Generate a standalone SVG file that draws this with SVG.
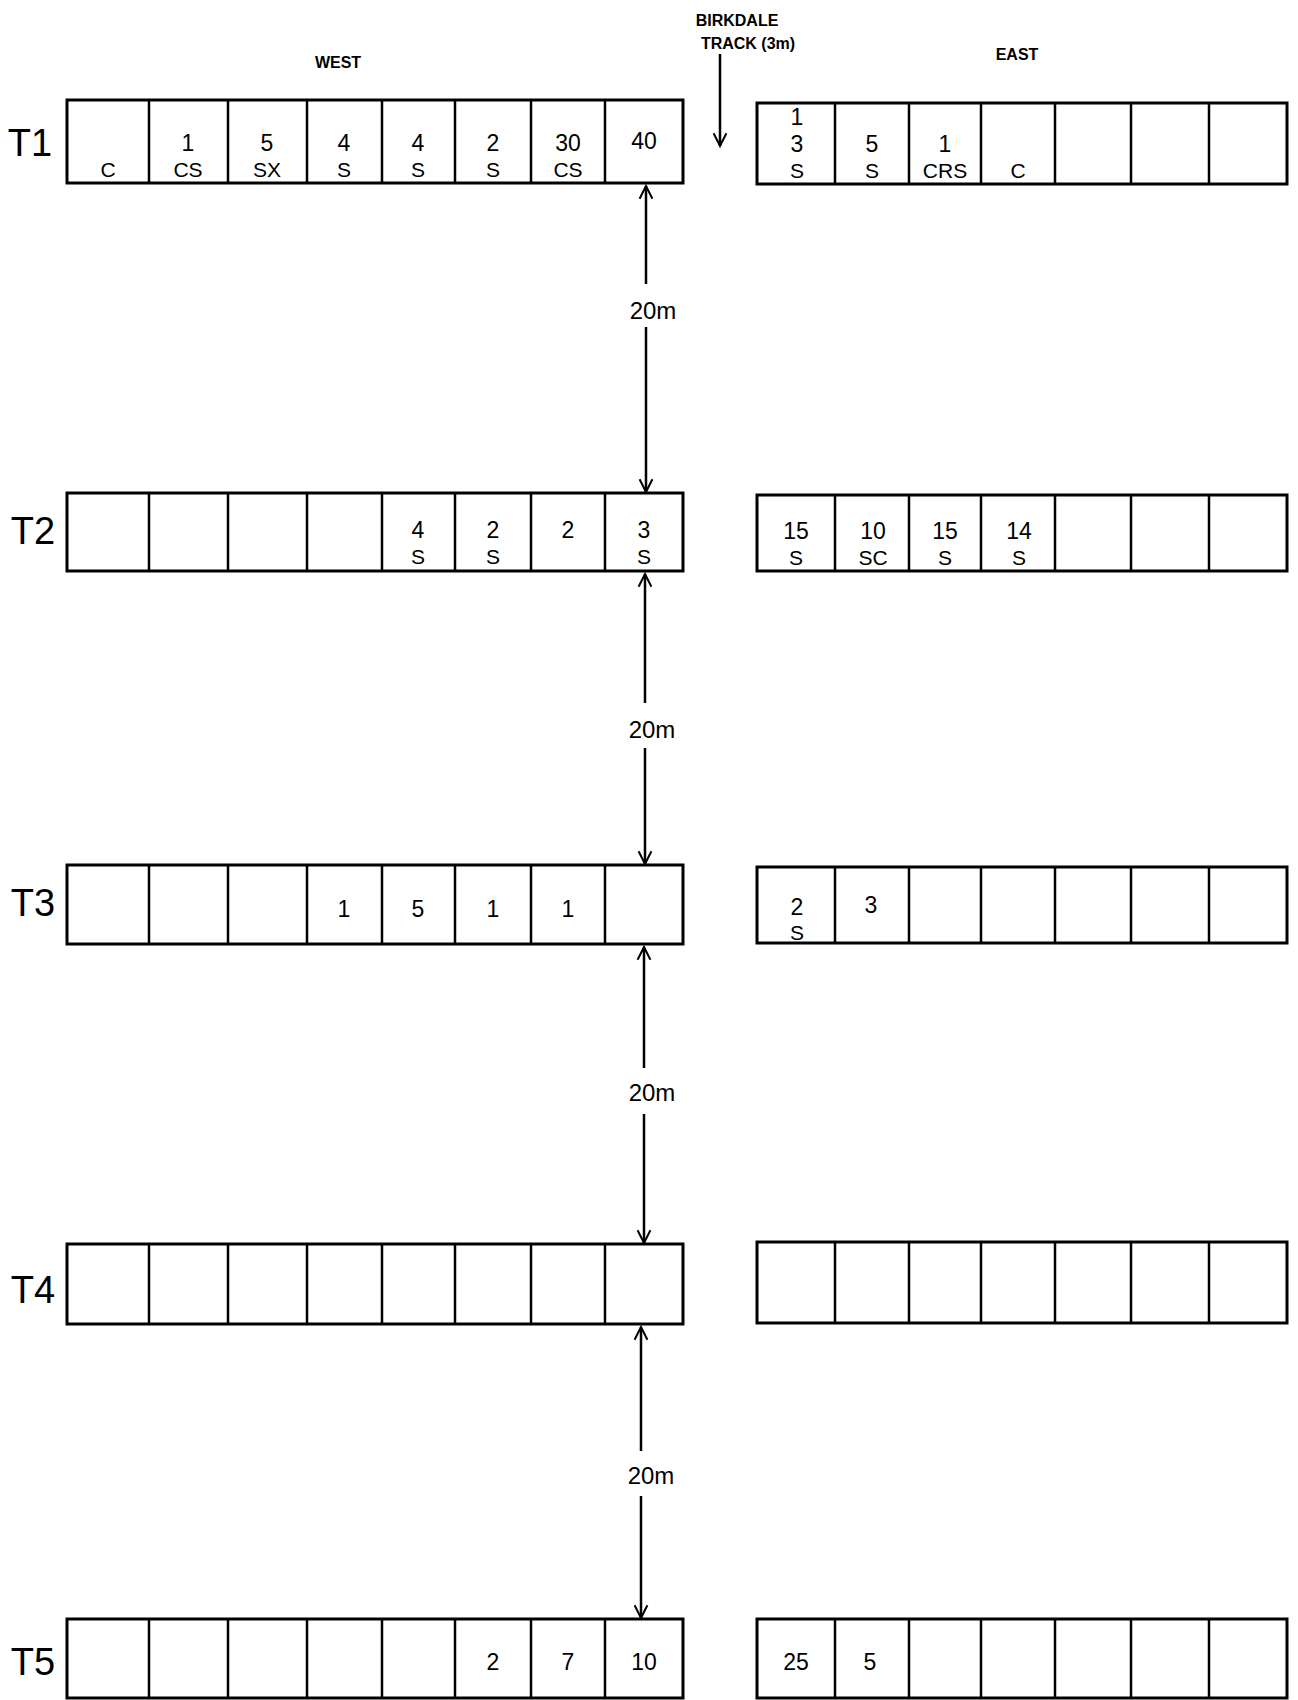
<svg xmlns="http://www.w3.org/2000/svg" width="1298" height="1700" viewBox="0 0 1298 1700">
<style>
.box{fill:#fff;stroke:#000;stroke-width:3}
.div{stroke:#000;stroke-width:2.5}
.t{font-family:"Liberation Sans",Arial,sans-serif;fill:#000;text-anchor:middle;dominant-baseline:central}
.n{font-size:23px}
.l{font-size:21px}
.row{font-size:38px}
.hdr{font-size:16px;font-weight:bold}
.dim{font-size:24px}
.con{stroke:#000;stroke-width:2.5;fill:none}
</style>
<defs>
<marker id="ah" viewBox="0 0 20 20" refX="18" refY="10" markerWidth="16" markerHeight="16" markerUnits="userSpaceOnUse" orient="auto-start-reverse">
<path d="M2,2 L18,10 L2,18" fill="none" stroke="#000" stroke-width="2.5"/>
</marker>
</defs>
<rect width="1298" height="1700" fill="#fff"/>

<g id="headers">
<text class="t hdr" x="338" y="62">WEST</text>
<text class="t hdr" x="737" y="20">BIRKDALE</text>
<text class="t hdr" x="748" y="43">TRACK (3m)</text>
<text class="t hdr" x="1017" y="54">EAST</text>
</g>

<g id="T1">
<text class="t row" x="30" y="143">T1</text>
<rect class="box" x="67" y="100" width="616" height="83"/>
<path class="div" d="M149,100V183M228,100V183M307,100V183M382,100V183M455,100V183M531,100V183M605,100V183"/>
<text class="t l" x="108" y="169">C</text>
<text class="t n" x="188" y="143">1</text><text class="t l" x="188" y="169">CS</text>
<text class="t n" x="267" y="143">5</text><text class="t l" x="267" y="169">SX</text>
<text class="t n" x="344" y="143">4</text><text class="t l" x="344" y="169">S</text>
<text class="t n" x="418" y="143">4</text><text class="t l" x="418" y="169">S</text>
<text class="t n" x="493" y="143">2</text><text class="t l" x="493" y="169">S</text>
<text class="t n" x="568" y="143">30</text><text class="t l" x="568" y="169">CS</text>
<text class="t n" x="644" y="141">40</text>
<rect class="box" x="757" y="103" width="530" height="81"/>
<path class="div" d="M835,103V184M909,103V184M981,103V184M1055,103V184M1131,103V184M1209,103V184"/>
<text class="t n" x="797" y="117">1</text><text class="t n" x="797" y="144">3</text><text class="t l" x="797" y="170">S</text>
<text class="t n" x="872" y="144">5</text><text class="t l" x="872" y="170">S</text>
<text class="t n" x="945" y="144">1</text><text class="t l" x="945" y="170">CRS</text>
<text class="t l" x="1018" y="170">C</text>
</g>

<g id="T2">
<text class="t row" x="33" y="531">T2</text>
<rect class="box" x="67" y="493" width="616" height="78"/>
<path class="div" d="M149,493V571M228,493V571M307,493V571M382,493V571M455,493V571M531,493V571M605,493V571"/>
<text class="t n" x="418" y="530">4</text><text class="t l" x="418" y="556">S</text>
<text class="t n" x="493" y="530">2</text><text class="t l" x="493" y="556">S</text>
<text class="t n" x="568" y="530">2</text>
<text class="t n" x="644" y="530">3</text><text class="t l" x="644" y="556">S</text>
<rect class="box" x="757" y="495" width="530" height="76"/>
<path class="div" d="M835,495V571M909,495V571M981,495V571M1055,495V571M1131,495V571M1209,495V571"/>
<text class="t n" x="796" y="531">15</text><text class="t l" x="796" y="557">S</text>
<text class="t n" x="873" y="531">10</text><text class="t l" x="873" y="557">SC</text>
<text class="t n" x="945" y="531">15</text><text class="t l" x="945" y="557">S</text>
<text class="t n" x="1019" y="531">14</text><text class="t l" x="1019" y="557">S</text>
</g>

<g id="T3">
<text class="t row" x="33" y="903">T3</text>
<rect class="box" x="67" y="865" width="616" height="79"/>
<path class="div" d="M149,865V944M228,865V944M307,865V944M382,865V944M455,865V944M531,865V944M605,865V944"/>
<text class="t n" x="344" y="909">1</text>
<text class="t n" x="418" y="909">5</text>
<text class="t n" x="493" y="909">1</text>
<text class="t n" x="568" y="909">1</text>
<rect class="box" x="757" y="867" width="530" height="76"/>
<path class="div" d="M835,867V943M909,867V943M981,867V943M1055,867V943M1131,867V943M1209,867V943"/>
<text class="t n" x="797" y="907">2</text><text class="t l" x="797" y="932">S</text>
<text class="t n" x="871" y="905">3</text>
</g>

<g id="T4">
<text class="t row" x="33" y="1290">T4</text>
<rect class="box" x="67" y="1244" width="616" height="80"/>
<path class="div" d="M149,1244V1324M228,1244V1324M307,1244V1324M382,1244V1324M455,1244V1324M531,1244V1324M605,1244V1324"/>
<rect class="box" x="757" y="1242" width="530" height="81"/>
<path class="div" d="M835,1242V1323M909,1242V1323M981,1242V1323M1055,1242V1323M1131,1242V1323M1209,1242V1323"/>
</g>

<g id="T5">
<text class="t row" x="33" y="1662">T5</text>
<rect class="box" x="67" y="1619" width="616" height="79"/>
<path class="div" d="M149,1619V1698M228,1619V1698M307,1619V1698M382,1619V1698M455,1619V1698M531,1619V1698M605,1619V1698"/>
<text class="t n" x="493" y="1662">2</text>
<text class="t n" x="568" y="1662">7</text>
<text class="t n" x="644" y="1662">10</text>
<rect class="box" x="757" y="1619" width="530" height="79"/>
<path class="div" d="M835,1619V1698M909,1619V1698M981,1619V1698M1055,1619V1698M1131,1619V1698M1209,1619V1698"/>
<text class="t n" x="796" y="1662">25</text>
<text class="t n" x="870" y="1662">5</text>
</g>

<g id="connectors">
<line class="con" x1="720" y1="54" x2="720" y2="146" marker-end="url(#ah)"/>
<line class="con" x1="646" y1="284" x2="646" y2="186" marker-end="url(#ah)"/>
<line class="con" x1="646" y1="327" x2="646" y2="492" marker-end="url(#ah)"/>
<text class="t dim" x="653" y="310">20m</text>
<line class="con" x1="645" y1="703" x2="645" y2="574" marker-end="url(#ah)"/>
<line class="con" x1="645" y1="748" x2="645" y2="864" marker-end="url(#ah)"/>
<text class="t dim" x="652" y="729">20m</text>
<line class="con" x1="644" y1="1068" x2="644" y2="947" marker-end="url(#ah)"/>
<line class="con" x1="644" y1="1114" x2="644" y2="1243" marker-end="url(#ah)"/>
<text class="t dim" x="652" y="1092">20m</text>
<line class="con" x1="641" y1="1451" x2="641" y2="1327" marker-end="url(#ah)"/>
<line class="con" x1="641" y1="1496" x2="641" y2="1618" marker-end="url(#ah)"/>
<text class="t dim" x="651" y="1475">20m</text>
</g>
</svg>
